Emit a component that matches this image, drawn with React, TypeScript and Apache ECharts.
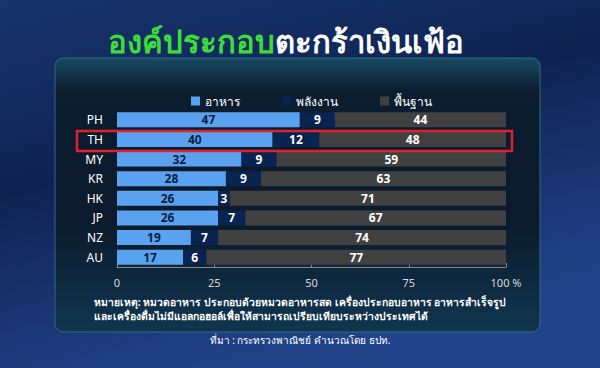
import React, { useEffect, useRef } from "react";
import * as echarts from "echarts";

const categories = ["PH", "TH", "MY", "KR", "HK", "JP", "NZ", "AU"];
const foodValues = [47, 40, 32, 28, 26, 26, 19, 17];
const energyValues = [9, 12, 9, 9, 3, 7, 7, 6];
const coreValues = [44, 48, 59, 63, 71, 67, 74, 77];
const xTicks = [0, 25, 50, 75, 100];
const seriesNames = ["อาหาร", "พลังงาน", "พื้นฐาน"];

const FONT = "'Noto Sans', 'Open Sans', sans-serif";

export default function App() {
  const ref = useRef<HTMLDivElement>(null);
  useEffect(() => {
    document.body.style.margin = "0";
    const chart = echarts.init(ref.current!, undefined, { renderer: "svg" });
    const labelStyle = (color: string) => ({
      show: true,
      position: "inside" as const,
      color,
      fontSize: 12,
      fontWeight: "bold" as const,
      fontFamily: FONT,
    });
    chart.setOption({
      animation: false,
      backgroundColor: {
        type: "linear",
        x: 0,
        y: 0,
        x2: 0.4,
        y2: 1,
        colorStops: [
          { offset: 0, color: "#17356f" },
          { offset: 0.45, color: "#0f2352" },
          { offset: 1, color: "#22438a" },
        ],
      },
      graphic: [
        {
          type: "rect",
          z: -10,
          shape: { x: 55, y: 58, width: 485, height: 274, r: 8 },
          style: {
            fill: {
              type: "linear",
              x: 0,
              y: 0,
              x2: 0,
              y2: 1,
              colorStops: [
                { offset: 0, color: "#184a62" },
                { offset: 0.12, color: "#0c1d30" },
                { offset: 0.6, color: "#0b1a2c" },
                { offset: 1, color: "#103650" },
              ],
            },
            stroke: "#2c6c82",
            lineWidth: 1,
          },
        },
        {
          type: "text",
          left: 108,
          top: 25,
          style: {
            text: "{g|องค์ประกอบ}{w|ตะกร้าเงินเฟ้อ}",
            rich: {
              g: { fill: "#3ddc3a", fontSize: 31, fontWeight: "bold", fontFamily: FONT },
              w: { fill: "#ffffff", fontSize: 31, fontWeight: "bold", fontFamily: FONT },
            },
          },
        },
        {
          type: "rect",
          z: 100,
          shape: { x: 77, y: 131, width: 435, height: 20 },
          style: { fill: "transparent", stroke: "#e0202a", lineWidth: 2.5 },
        },
        {
          type: "text",
          left: "center",
          top: 295,
          style: {
            text:
              "หมายเหตุ: หมวดอาหาร ประกอบด้วยหมวดอาหารสด เครื่องประกอบอาหาร อาหารสำเร็จรูป\nและเครื่องดื่มไม่มีแอลกอฮอล์เพื่อให้สามารถเปรียบเทียบระหว่างประเทศได้",
            fill: "#ffffff",
            fontSize: 10.3,
            fontWeight: "bold",
            fontFamily: FONT,
            align: "center",
            lineHeight: 14,
          },
        },
        {
          type: "text",
          left: "center",
          top: 335,
          style: {
            text: "ที่มา : กระทรวงพาณิชย์ คำนวณโดย ธปท.",
            fill: "#ffffff",
            fontSize: 10,
            fontFamily: FONT,
          },
        },
      ],
      legend: {
        top: 90,
        left: 186,
        itemWidth: 9,
        itemHeight: 9,
        itemGap: 42,
        icon: "rect",
        data: seriesNames,
        textStyle: { color: "#ffffff", fontSize: 12, fontFamily: FONT },
      },
      grid: { left: 117, right: 94, top: 110, bottom: 101 },
      xAxis: {
        type: "value",
        min: 0,
        max: 100,
        interval: 25,
        splitLine: { show: false },
        axisLine: { show: true, lineStyle: { color: "#8a8a8a" } },
        axisTick: { show: true, inside: true, length: 4, lineStyle: { color: "#8a8a8a" } },
        axisLabel: {
          color: "#d8d8d8",
          fontSize: 11,
          fontFamily: FONT,
          margin: 10,
          formatter: (v: number) => (v === xTicks[xTicks.length - 1] ? v + " %" : String(v)),
        },
      },
      yAxis: {
        type: "category",
        data: categories,
        inverse: true,
        axisLine: { show: false },
        axisTick: { show: false },
        axisLabel: { color: "#ffffff", fontSize: 12, fontFamily: FONT, margin: 14 },
      },
      series: [
        {
          name: seriesNames[0],
          type: "bar",
          stack: "total",
          barWidth: 15,
          data: foodValues,
          itemStyle: { color: "#5aa2f0" },
          label: labelStyle("#0b1f3f"),
        },
        {
          name: seriesNames[1],
          type: "bar",
          stack: "total",
          barWidth: 15,
          data: energyValues,
          itemStyle: { color: "#0a2452" },
          label: labelStyle("#ffffff"),
        },
        {
          name: seriesNames[2],
          type: "bar",
          stack: "total",
          barWidth: 15,
          data: coreValues,
          itemStyle: { color: "#414141" },
          label: labelStyle("#ffffff"),
        },
      ],
    });
    return () => chart.dispose();
  }, []);
  return <div ref={ref} style={{ width: 600, height: 368 }} />;
}
